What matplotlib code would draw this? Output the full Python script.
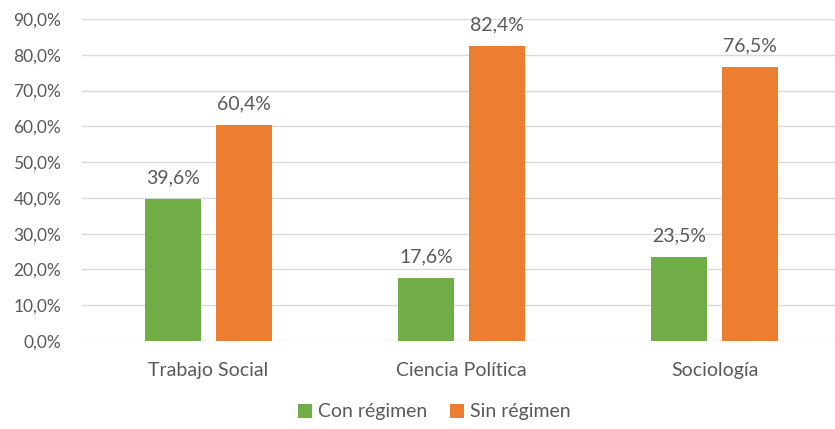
import numpy as np
import matplotlib
matplotlib.use("Agg")
import matplotlib.pyplot as plt

plt.rcParams['font.family'] = ['Lato', 'DejaVu Sans']

categories = ["Trabajo Social", "Ciencia Política", "Sociología"]
con_regimen = [39.6, 17.6, 23.5]
sin_regimen = [60.4, 82.4, 76.5]
series_names = ["Con régimen", "Sin régimen"]

green = "#70AD47"
orange = "#ED7D31"
text_col = "#595959"

fig = plt.figure(figsize=(8.35, 4.29), dpi=100)
ax = fig.add_axes([82/835, 1 - 341/429, 1 - 82/835, (341 - 19)/429])

x = np.arange(len(categories))
w = 0.221
off = 0.14
b1 = ax.bar(x - off, con_regimen, w, color=green, label=series_names[0], zorder=3)
b2 = ax.bar(x + off, sin_regimen, w, color=orange, label=series_names[1], zorder=3)

for bars, vals in ((b1, con_regimen), (b2, sin_regimen)):
    for r, v in zip(bars, vals):
        ax.annotate(f"{v:.1f}%".replace(".", ","), (r.get_x() + r.get_width()/2, v),
                    xytext=(0, 9), textcoords='offset points',
                    ha='center', va='bottom', fontsize=14, color=text_col)

ax.set_ylim(0, 90)
ax.set_yticks(np.arange(0, 91, 10))
ax.set_yticklabels([f"{t:.1f}%".replace(".", ",") for t in np.arange(0, 91, 10)])
ax.set_xlim(-0.5, 2.476)
ax.set_xticks(x)
ax.set_xticklabels(categories, fontsize=14)
ax.grid(axis='y', color="#D9D9D9", linewidth=1, zorder=0)
for s in ax.spines.values():
    s.set_visible(False)
ax.tick_params(length=0, colors=text_col, labelsize=13)
ax.tick_params(axis='x', pad=15, labelsize=14)
ax.tick_params(axis='y', pad=15, labelsize=12.5)

fig.legend(loc='center', bbox_to_anchor=(0.52, 1 - 412/429), ncol=2, frameon=False,
           fontsize=14, labelcolor=text_col, handlelength=0.7, handleheight=0.7,
           handletextpad=0.3, columnspacing=1.2)

fig.savefig("out.png", dpi=100)
